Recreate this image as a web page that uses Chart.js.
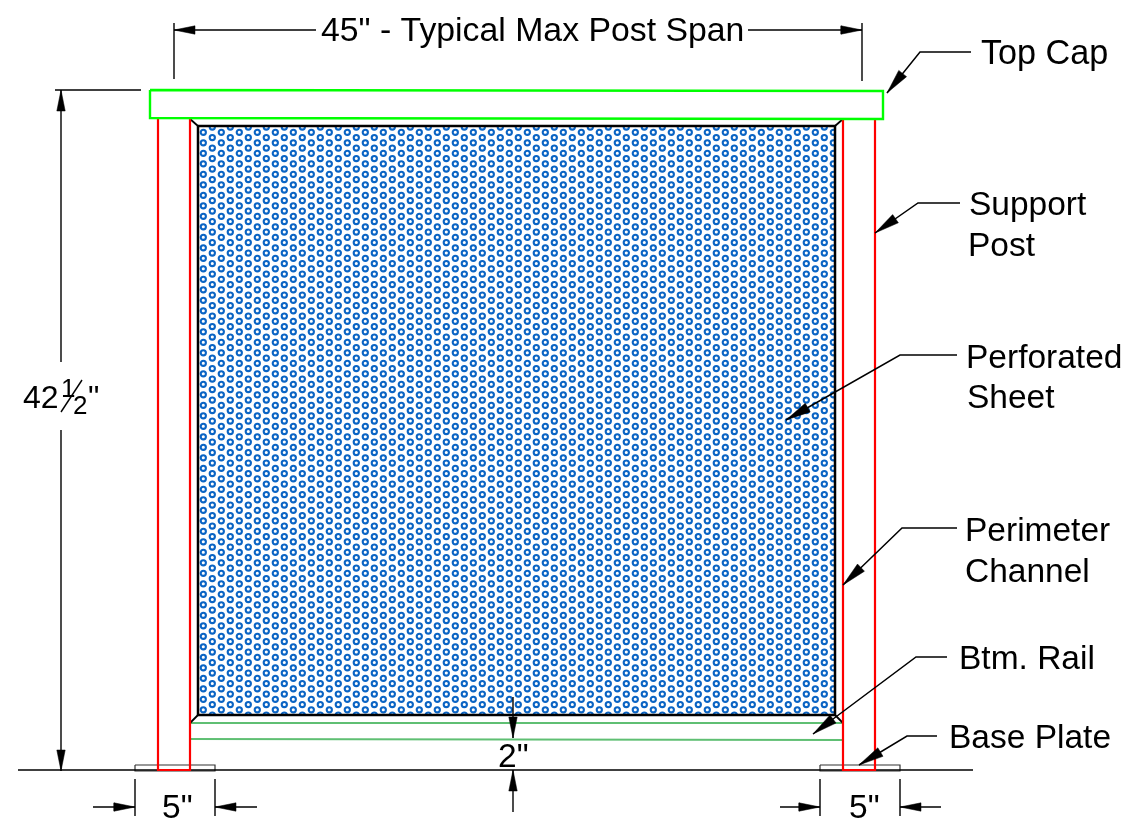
<!DOCTYPE html>
<html>
<head>
<meta charset="utf-8">
<title>Perforated sheet railing panel</title>
<script src="https://cdn.jsdelivr.net/npm/chart.js@4"></script>
<style>
  html, body { margin: 0; padding: 0; background: #fff; }
  #box { width: 1127px; height: 825px; }
</style>
</head>
<body>
<div id="box"><canvas id="desenho"></canvas></div>
<script>
// drawing units are the picture's own pixels, y grows downwards
const topCap = [[150, 90], [883, 91], [883, 119], [150, 118], [150, 90]];
const leftPost = [[158, 118], [158, 770], [190, 770], [190, 118]];
const rightPost = [[843, 119], [843, 770], [875, 770], [875, 119]];
const sheet = [[198, 126], [835, 126], [835, 715], [198, 715], [198, 126]];
const channelCorners = [
  [[190, 119], [198, 126]],
  [[843, 119], [835, 126]],
  [[190, 723], [198, 715]],
  [[843, 723], [835, 715]]
];
const bottomRail = [
  [[190, 723], [843, 723]],
  [[190, 739], [843, 740]]
];
const basePlates = [
  [[135, 765], [215, 765], [215, 771], [135, 771], [135, 765]],
  [[820, 765], [900, 765], [900, 771], [820, 771], [820, 765]]
];
const groundLine = [[18, 770], [973, 770]];

const dimLines = [
  [[174, 23], [174, 79]],
  [[862, 23], [862, 81]],
  [[174, 30], [316, 30]],
  [[748, 30], [862, 30]],
  [[55, 90], [141, 90]],
  [[61, 90], [61, 362]],
  [[61, 430], [61, 771]],
  [[135, 779], [135, 816]],
  [[215, 779], [215, 816]],
  [[93, 807], [135, 807]],
  [[215, 807], [257, 807]],
  [[820, 779], [820, 816]],
  [[900, 779], [900, 816]],
  [[780, 807], [820, 807]],
  [[900, 807], [941, 807]],
  [[513, 697], [513, 738]],
  [[513, 770], [513, 812]]
];
const leaders = [
  [[971, 52], [920, 52], [887, 93]],
  [[960, 203], [918, 203], [875, 233]],
  [[957, 355], [900, 355], [786, 420]],
  [[957, 528], [902, 528], [843, 585]],
  [[947, 657], [916, 657], [813, 734]],
  [[937, 736], [907, 736], [859, 765]]
];
// arrow tip, then a point the arrow's tail looks towards
const dimArrows = [
  [[174, 30], [316, 30]],
  [[862, 30], [748, 30]],
  [[61, 90], [61, 362]],
  [[61, 771], [61, 430]],
  [[135, 807], [93, 807]],
  [[215, 807], [257, 807]],
  [[820, 807], [780, 807]],
  [[900, 807], [941, 807]],
  [[513, 738], [513, 697]],
  [[513, 770], [513, 812]]
];

const labels = ['45" - Typical Max Post Span', 'Top Cap', 'Support', 'Post', 'Perforated', 'Sheet',
  'Perimeter', 'Channel', 'Btm. Rail', 'Base Plate', '42', '1', '2', '"', '5"', '5"', '2"'];
const labelAnchors = [[321, 41], [981, 64], [969, 215], [968, 256], [966, 368], [967, 408],
  [965, 541], [965, 582], [959, 669], [949, 748], [23, 408], [61, 397], [73, 414], [88, 408],
  [162, 818], [849, 818], [498, 767]];
const labelSizes = [33.8, 34.2, 33.5, 33.5, 33.5, 33.5, 33.5, 33.5, 33.5, 33.5, 32, 26, 26, 32, 33.5, 33.5, 33.5];
const fractionBar = [[61, 412], [82, 380]];

function holes() {
  const w = 18, h = 21, c = document.createElement('canvas');
  c.width = w; c.height = h;
  const g = c.getContext('2d');
  g.fillStyle = '#fff';
  g.fillRect(0, 0, w, h);
  g.strokeStyle = '#0a64c4';
  g.lineWidth = 2.1;
  [[5.3, 6.3], [5.3, 16.8], [14.3, 1.05], [14.3, 11.55], [14.3, 22.05]].forEach(p => {
    g.beginPath();
    g.arc(p[0], p[1], 2.6, 0, Math.PI * 2);
    g.stroke();
  });
  return g.createPattern(c, 'repeat');
}

function pts(line) {
  return line.map(p => ({ x: p[0], y: p[1] }));
}

function traco(line, cor, largura) {
  return { data: pts(line), borderColor: cor, borderWidth: largura, pointRadius: 0, showLine: true, fill: false };
}

function seta(tip, towards, comp, meia) {
  const dx = towards[0] - tip[0], dy = towards[1] - tip[1];
  const d = Math.hypot(dx, dy), ux = dx / d, uy = dy / d;
  const bx = tip[0] + ux * comp, by = tip[1] + uy * comp;
  const poly = [tip, [bx - uy * meia, by + ux * meia], [bx + uy * meia, by - ux * meia], tip];
  return { data: pts(poly), borderColor: '#000', borderWidth: 0.5, backgroundColor: '#000', pointRadius: 0, showLine: true, fill: 'shape' };
}

const datasets = [
  ...dimArrows.map(a => seta(a[0], a[1], 21, 4.2)),
  ...leaders.map(l => seta(l[2], l[1], 25, 5)),
  ...leaders.map(l => traco(l, '#000', 1.5)),
  ...dimLines.map(l => traco(l, '#000', 1.4)),
  traco(fractionBar, '#000', 1.4),
  traco(topCap, '#00ff00', 2.4),
  traco(leftPost, '#ff0000', 2.2),
  traco(rightPost, '#ff0000', 2.2),
  ...channelCorners.map(l => traco(l, '#000', 1.8)),
  ...bottomRail.map(l => traco(l, '#5fbf73', 2.2)),
  traco(groundLine, '#000', 1.4),
  ...basePlates.map(l => traco(l, '#333', 1.2)),
  { data: pts(sheet), borderColor: '#000', borderWidth: 2.5, backgroundColor: holes(), pointRadius: 0, showLine: true, fill: 'shape' }
];

const textos = {
  id: 'textos',
  afterDatasetsDraw(chart) {
    const { ctx, scales } = chart;
    ctx.save();
    ctx.fillStyle = '#000';
    ctx.textBaseline = 'alphabetic';
    labels.forEach((t, i) => {
      ctx.font = labelSizes[i] + 'px "Liberation Sans"';
      ctx.fillText(t, scales.x.getPixelForValue(labelAnchors[i][0]), scales.y.getPixelForValue(labelAnchors[i][1]));
    });
    ctx.restore();
  }
};

new Chart(document.getElementById('desenho'), {
  type: 'scatter',
  data: { datasets },
  options: {
    responsive: true,
    maintainAspectRatio: false,
    animation: false,
    events: [],
    layout: { padding: 0 },
    elements: { line: { tension: 0, borderCapStyle: 'butt', borderJoinStyle: 'miter' } },
    plugins: { legend: { display: false }, tooltip: { enabled: false } },
    scales: {
      x: { type: 'linear', min: 0, max: 1127, display: false },
      y: { type: 'linear', min: 0, max: 825, reverse: true, display: false }
    }
  },
  plugins: [textos]
});
</script>
</body>
</html>
